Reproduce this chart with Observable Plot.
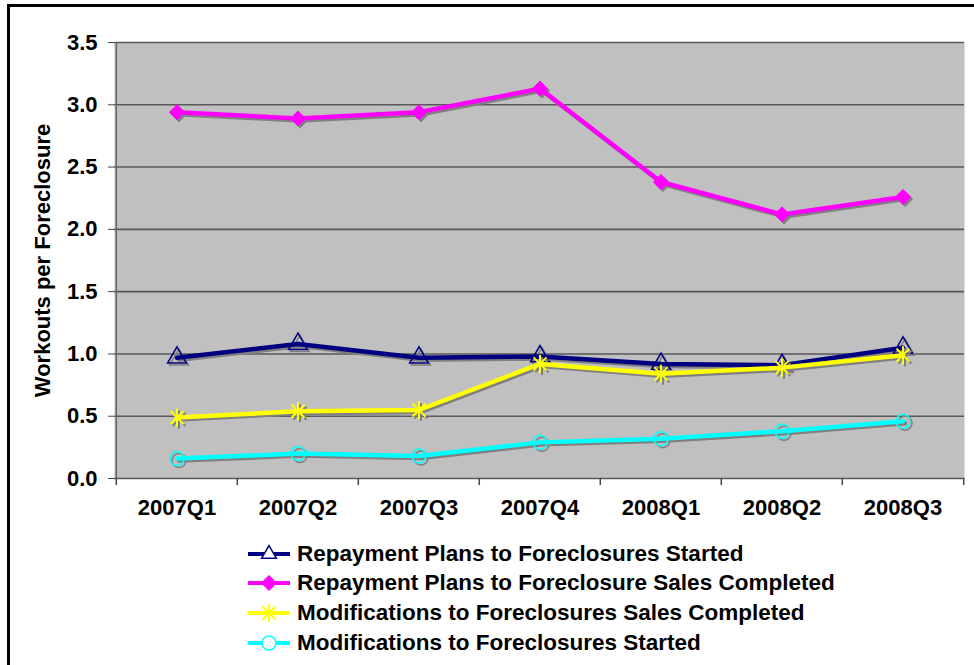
<!DOCTYPE html>
<html>
<head>
<meta charset="utf-8">
<script src="https://cdn.jsdelivr.net/npm/d3@7"></script>
<script src="https://cdn.jsdelivr.net/npm/@observablehq/plot@0.6"></script>
<style>
  html, body { margin: 0; padding: 0; background: #fff; }
  #wrap { position: relative; width: 974px; height: 665px; overflow: hidden; background: #fff;
          font-family: "Liberation Sans", Arial, sans-serif; }
  #border { position: absolute; left: 7px; top: 4px; width: 1000px; height: 700px;
            border-left: 3px solid #000; border-top: 3px solid #000; box-sizing: border-box; }
  #chart { position: absolute; left: 0; top: 0; }
  #legend { position: absolute; left: 248px; top: 539px; }
  .row { display: flex; align-items: center; height: 29.6px; }
  .row span { margin-left: 7px; font-weight: bold; font-size: 22.5px; color: #000; white-space: nowrap; }
</style>
</head>
<body>
<div id="wrap">
  <div id="border"></div>
  <div id="chart"></div>
  <div id="legend"></div>
</div>
<script>
const categories = ["2007Q1", "2007Q2", "2007Q3", "2007Q4", "2008Q1", "2008Q2", "2008Q3"];
const seriesNames = [
  "Repayment Plans to Foreclosures Started",
  "Repayment Plans to Foreclosure Sales Completed",
  "Modifications to Foreclosures Sales Completed",
  "Modifications to Foreclosures Started"
];
const repayStarted = [0.97, 1.08, 0.97, 0.98, 0.92, 0.91, 1.05];
const repaySales   = [2.94, 2.89, 2.94, 3.13, 2.38, 2.12, 2.26];
const modSales     = [0.49, 0.54, 0.55, 0.92, 0.84, 0.89, 0.99];
const modStarted   = [0.16, 0.20, 0.18, 0.29, 0.32, 0.38, 0.46];
const yTicks = [0, 0.5, 1.0, 1.5, 2.0, 2.5, 3.0, 3.5];
const yLabel = "Workouts per Foreclosure";

const seriesValues = [repayStarted, repaySales, modSales, modStarted];
const colors = ["#000080", "#FF00FF", "#FFFF00", "#00FFFF"];

// custom asterisk (vertical bar + X) like the spreadsheet "star" marker
const asterisk = {
  draw(ctx, size) {
    const r = Math.sqrt(size / Math.PI) * 1.25;
    const d = r * 0.72;
    ctx.moveTo(0, -r); ctx.lineTo(0, r);
    ctx.moveTo(-d, -d); ctx.lineTo(d, d);
    ctx.moveTo(-d, d); ctx.lineTo(d, -d);
  }
};
const markerSpec = [
  {symbol: "triangle", r: 7, fill: "none", stroke: colors[0], strokeWidth: 1.5},
  {symbol: "diamond2", r: 6.8, fill: colors[1], stroke: colors[1], strokeWidth: 1},
  {symbol: asterisk, r: 7.2, fill: "none", stroke: colors[2], strokeWidth: 2},
  {symbol: "circle", r: 7, fill: "none", stroke: colors[3], strokeWidth: 1.5}
];

const data = seriesNames.flatMap((s, si) =>
  categories.map((c, ci) => ({series: s, si, cat: c, value: seriesValues[si][ci]})));

const W = 974, H = 530, ML = 114, MR = 10, MT = 42, MB = 52;
const bw = (W - ML - MR) / categories.length;
const shadow = "#808080";

const tickShape = { draw(ctx, l) { ctx.moveTo(0, 0); ctx.lineTo(0, -l); } };

const seriesMarks = seriesNames.flatMap((s, si) => {
  const d = data.filter(r => r.si === si);
  const m = markerSpec[si];
  return [
    Plot.line(d, {x: "cat", y: "value", stroke: shadow, strokeWidth: 4.5, dx: 2, dy: 2, strokeLinejoin: "round"}),
    Plot.dot(d, {x: "cat", y: "value", symbol: m.symbol, r: m.r, dx: 2, dy: 2,
      fill: m.fill === "none" ? "none" : shadow, stroke: shadow, strokeWidth: m.strokeWidth}),
    Plot.line(d, {x: "cat", y: "value", stroke: colors[si], strokeWidth: 4.5, strokeLinejoin: "round"}),
    Plot.dot(d, {x: "cat", y: "value", symbol: m.symbol, r: m.r,
      fill: m.fill, stroke: m.stroke, strokeWidth: m.strokeWidth})
  ];
});

const chart = Plot.plot({
  width: W, height: H,
  marginLeft: ML, marginRight: MR, marginTop: MT, marginBottom: MB,
  x: {type: "band", domain: categories, padding: 0, axis: null},
  y: {domain: [0, 3.5], axis: null},
  style: {fontFamily: "'Liberation Sans', Arial, sans-serif", fontSize: "22px", fontWeight: "bold",
          background: "transparent", overflow: "visible", color: "#000"},
  marks: [
    Plot.frame({fill: "#C0C0C0", stroke: null}),
    Plot.ruleY(yTicks, {stroke: "#585858", strokeWidth: 1.6}),
    Plot.ruleX([categories[0]], {dx: -bw / 2, stroke: "#666", strokeWidth: 1.5}),
    Plot.vector(categories, {x: d => d, y: 0, length: 6, rotate: 180, anchor: "start",
      shape: tickShape, dx: -bw / 2, stroke: "#444", strokeWidth: 1.5}),
    Plot.vector([categories[categories.length - 1]], {x: d => d, y: 0, length: 6, rotate: 180, anchor: "start",
      shape: tickShape, dx: bw / 2, stroke: "#444", strokeWidth: 1.5}),
    Plot.axisY({ticks: yTicks, tickFormat: d3.format(".1f"), tickSize: 6, tickPadding: 11,
      stroke: "#444", fontSize: 22, fontWeight: "bold", label: null}),
    Plot.axisX({tickSize: 0, tickPadding: 21, fontSize: 22, fontWeight: "bold", label: null}),
    Plot.text([yLabel], {frameAnchor: "left", textAnchor: "middle", lineAnchor: "middle", rotate: -90, dx: -72,
      fontSize: 22, fontWeight: "bold", fill: "#000"}),
    ...seriesMarks
  ]
});
document.getElementById("chart").appendChild(chart);

// legend
const legend = d3.select("#legend");
seriesNames.forEach((s, si) => {
  const m = markerSpec[si];
  const row = legend.append("div").attr("class", "row");
  const svg = row.append("svg").attr("width", 42).attr("height", 22).style("overflow", "visible");
  svg.append("line").attr("x1", 0).attr("x2", 42).attr("y1", 11).attr("y2", 11)
    .attr("stroke", colors[si]).attr("stroke-width", 4);
  const sym = typeof m.symbol === "string"
    ? {triangle: d3.symbolTriangle2, diamond2: d3.symbolDiamond2, circle: d3.symbolCircle}[m.symbol]
    : m.symbol;
  svg.append("path").attr("transform", "translate(21,11)")
    .attr("d", d3.symbol(sym, Math.PI * m.r * m.r)())
    .attr("fill", m.fill === "none" ? (si === 2 ? "none" : "#fff") : m.fill)
    .attr("stroke", m.stroke).attr("stroke-width", m.strokeWidth);
  row.append("span").text(s);
});
</script>
</body>
</html>
